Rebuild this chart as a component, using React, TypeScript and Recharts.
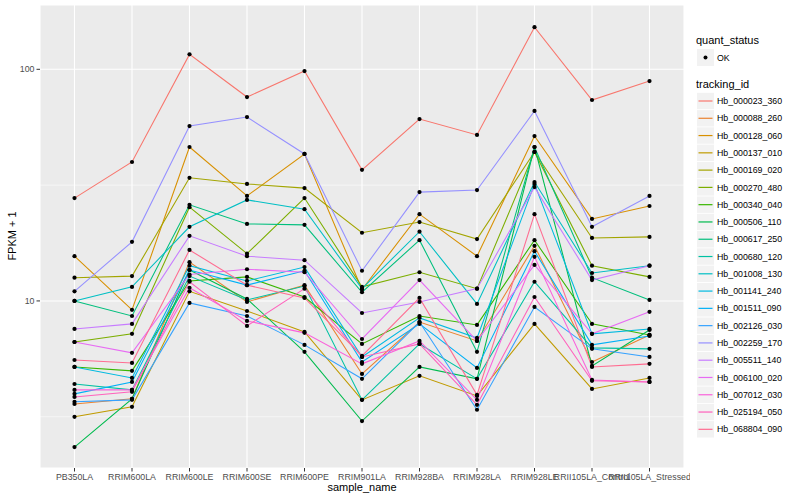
import React from 'react';
import { LineChart, Line, XAxis, YAxis, CartesianGrid } from 'recharts';

const samples = [
  'PB350LA', 'RRIM600LA', 'RRIM600LE', 'RRIM600SE', 'RRIM600PE', 'RRIM901LA',
  'RRIM928BA', 'RRIM928LA', 'RRIM928LE', 'RRII105LA_Control', 'RRII105LA_Stressed',
];

const trackingIds = [
  'Hb_000023_360', 'Hb_000088_260', 'Hb_000128_060', 'Hb_000137_010', 'Hb_000169_020',
  'Hb_000270_480', 'Hb_000340_040', 'Hb_000506_110', 'Hb_000617_250', 'Hb_000680_120',
  'Hb_001008_130', 'Hb_001141_240', 'Hb_001511_090', 'Hb_002126_030', 'Hb_002259_170',
  'Hb_005511_140', 'Hb_006100_020', 'Hb_007012_030', 'Hb_025194_050', 'Hb_068804_090',
];

const colors = [
  '#F8766D', '#EA8331', '#D89000', '#C09B00', '#A3A500', '#7CAE00', '#39B600', '#00BB4E',
  '#00BF7D', '#00C1A3', '#00BFC4', '#00BAE0', '#00B0F6', '#35A2FF', '#9590FF', '#C77CFF',
  '#E76BF3', '#FA62DB', '#FF62BC', '#FF6C91',
];

// FPKM + 1 per sample, one array per tracking id
const hb000023 = [27.8, 39.8, 116, 75.9, 98.3, 36.8, 61.0, 52.1, 152, 73.7, 89.0];
const hb000088 = [3.59, 3.78, 14.7, 9.9, 11.7, 4.84, 8.11, 6.72, 17.3, 5.45, 7.13];
const hb000128 = [15.6, 9.15, 46.2, 28.4, 43.1, 11.2, 23.7, 15.6, 51.5, 22.6, 25.7];
const hb000137 = [3.16, 3.49, 11.0, 9.05, 7.35, 3.74, 4.75, 3.89, 7.96, 4.17, 4.65];
const hb000169 = [12.6, 12.8, 34.0, 32.0, 30.7, 19.7, 21.9, 18.5, 44.0, 18.7, 18.9];
const hb000270 = [6.65, 7.21, 25.4, 16.0, 27.8, 11.5, 13.3, 11.3, 44.0, 14.2, 12.7];
const hb000340 = [5.19, 4.99, 12.2, 12.7, 10.4, 6.52, 8.61, 7.88, 18.3, 7.96, 7.13];
const hb000506 = [2.34, 3.78, 13.6, 10.2, 6.03, 3.03, 5.19, 4.61, 46.2, 5.24, 7.49];
const hb000617 = [10.0, 8.61, 26.0, 21.5, 21.3, 10.9, 18.3, 6.03, 46.2, 12.6, 10.1];
const hb000680 = [4.38, 4.13, 12.8, 10.1, 11.6, 3.74, 6.52, 4.61, 12.1, 6.27, 6.21];
const hb001008 = [10.0, 11.5, 20.9, 27.3, 24.9, 11.3, 19.9, 9.71, 32.6, 13.2, 14.2];
const hb001141 = [5.19, 4.65, 14.2, 12.2, 14.0, 5.73, 8.45, 6.92, 32.0, 7.21, 7.57];
const hb001511 = [3.97, 4.47, 13.6, 11.7, 13.5, 5.45, 7.96, 5.14, 16.4, 6.46, 7.06];
const hb002126 = [3.67, 3.74, 9.8, 8.61, 6.46, 4.61, 8.11, 3.39, 9.42, 6.21, 5.73];
const hb002259 = [11.0, 18.0, 56.9, 62.2, 43.1, 13.5, 29.5, 30.1, 66.1, 20.9, 28.4];
const hb005511 = [7.57, 7.96, 19.1, 15.6, 15.0, 8.87, 9.9, 11.3, 31.0, 12.3, 14.2];
const hb006100 = [6.65, 5.97, 13.0, 13.7, 13.3, 6.85, 12.3, 6.72, 14.3, 7.21, 8.97];
const hb007012 = [4.13, 4.13, 11.4, 8.2, 7.28, 5.35, 6.72, 3.74, 15.5, 4.56, 4.47];
const hb025194 = [3.85, 4.05, 12.1, 7.8, 11.3, 5.73, 6.52, 3.56, 10.4, 4.52, 4.47];
const hb068804 = [5.56, 5.4, 16.6, 11.7, 10.3, 5.79, 10.3, 3.93, 23.7, 5.19, 5.35];

const seriesValues = [
  hb000023, hb000088, hb000128, hb000137, hb000169, hb000270, hb000340, hb000506, hb000617, hb000680,
  hb001008, hb001141, hb001511, hb002126, hb002259, hb005511, hb006100, hb007012, hb025194, hb068804,
];

const yTicks = [10, 100];
const yMinor = [3.162, 31.62];

const rows = samples.map((name, i) => {
  const row: Record<string, number | string> = { x: i, name };
  trackingIds.forEach((id, k) => {
    row[id] = seriesValues[k][i];
  });
  return row;
});

const font = '"Liberation Sans", Arial, Helvetica, sans-serif';

const Legend = () => (
  <svg
    width={104}
    height={460}
    style={{ position: 'absolute', left: 696, top: 0, fontFamily: font }}
  >
    <text x={0} y={44} fontSize={11} fill="#000">quant_status</text>
    <rect x={1} y={49} width={17} height={17} fill="#F2F2F2" />
    <circle cx={9.5} cy={57.5} r={2} fill="#000" />
    <text x={21} y={60.5} fontSize={8.8} fill="#000">OK</text>
    <text x={0} y={88} fontSize={11} fill="#000">tracking_id</text>
    {trackingIds.map((id, k) => {
      const cy = 101 + k * 17.28;
      return (
        <g key={id}>
          <rect x={1} y={cy - 8.2} width={17} height={16.4} fill="#F2F2F2" />
          <line x1={2.5} x2={16.5} y1={cy} y2={cy} stroke={colors[k]} strokeWidth={1.2} />
          <text x={21} y={cy + 3.1} fontSize={8.8} fill="#000">{id}</text>
        </g>
      );
    })}
  </svg>
);

export default function App() {
  return (
    <div style={{ position: 'absolute', left: 0, top: 0, width: 800, height: 500, background: '#fff', fontFamily: font }}>
      <LineChart width={690} height={500} data={rows} margin={{ top: 5, right: 6, bottom: 0, left: 0 }}>
        <CartesianGrid fill="#EBEBEB" stroke="#FFFFFF" strokeWidth={1.1} />
        <CartesianGrid stroke="#FFFFFF" strokeWidth={0.55} vertical={false} horizontalValues={yMinor} />
        <XAxis
          dataKey="x"
          type="number"
          domain={[-0.6, samples.length - 0.4]}
          ticks={samples.map((_, i) => i)}
          tickFormatter={(v: number) => samples[v]}
          interval={0}
          height={32}
          axisLine={false}
          tickSize={3.5}
          tickMargin={2}
          tickLine={{ stroke: '#333333' }}
          tick={{ fill: '#4D4D4D', fontSize: 8.8 }}
        />
        <YAxis
          type="number"
          scale="log"
          domain={[1.9, 189.5]}
          allowDataOverflow
          ticks={yTicks}
          width={40}
          axisLine={false}
          tickSize={3.5}
          tickMargin={2}
          tickLine={{ stroke: '#333333' }}
          tick={{ fill: '#4D4D4D', fontSize: 8.8 }}
        />
        {trackingIds.map((id, k) => (
          <Line
            key={id}
            type="linear"
            dataKey={id}
            stroke={colors[k]}
            strokeWidth={1.07}
            dot={false}
            activeDot={false}
            isAnimationActive={false}
          />
        ))}
        {trackingIds.map((id) => (
          <Line
            key={id + '_pts'}
            type="linear"
            dataKey={id}
            stroke="none"
            dot={{ r: 2.1, fill: '#000', stroke: 'none' }}
            activeDot={false}
            legendType="none"
            isAnimationActive={false}
          />
        ))}
      </LineChart>
      <div style={{ position: 'absolute', left: 362, top: 481, transform: 'translateX(-50%)', fontSize: 11, whiteSpace: 'nowrap' }}>
        sample_name
      </div>
      <div
        style={{
          position: 'absolute', left: 12, top: 236, transform: 'translate(-50%, -50%) rotate(-90deg)',
          fontSize: 11, whiteSpace: 'nowrap',
        }}
      >
        FPKM + 1
      </div>
      <Legend />
    </div>
  );
}
